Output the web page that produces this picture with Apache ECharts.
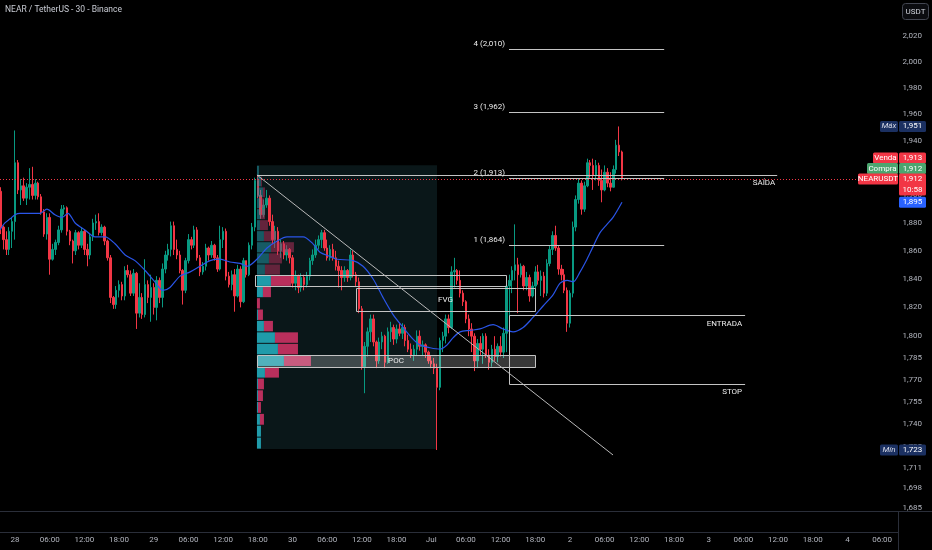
<!DOCTYPE html>
<html>
<head>
<meta charset="utf-8">
<script src="https://cdn.jsdelivr.net/npm/echarts@6/dist/echarts.min.js"></script>
<style>html,body{margin:0;padding:0;background:#000;}#c{width:932px;height:550px;}</style>
</head>
<body>
<div id="c"></div>
<script>
// ---------------- DATA ----------------
// 30-minute bars; bar index 0 = 28 Jun 00:00
const firstBar = -5;
const opens = [
1.903,1.877,1.868,1.861,1.874,1.881,1.924,1.904,1.907,1.898,1.906,1.908,
1.900,1.909,1.899,1.888,1.872,1.884,1.854,1.861,1.866,1.875,1.890,1.891,
1.874,1.867,1.860,1.873,1.864,1.874,1.861,1.857,1.870,1.880,1.881,1.873,
1.877,1.867,1.855,1.827,1.822,1.832,1.836,1.828,1.846,1.843,1.830,1.844,
1.816,1.827,1.815,1.836,1.827,1.834,1.820,1.839,1.827,1.847,1.857,1.861,
1.878,1.861,1.857,1.846,1.832,1.853,1.868,1.864,1.875,1.855,1.845,1.849,
1.862,1.857,1.864,1.855,1.847,1.868,1.874,1.842,1.836,1.843,1.828,1.847,
1.824,1.853,1.843,1.864,1.877,1.911,1.900,1.886,1.893,1.898,1.881,1.868,
1.874,1.860,1.865,1.857,1.861,1.855,1.837,1.842,1.834,1.841,1.836,1.842,
1.853,1.857,1.864,1.868,1.873,1.862,1.855,1.861,1.855,1.849,1.846,1.841,
1.846,1.841,1.857,1.843,1.838,1.819,1.779,1.793,1.803,1.812,1.796,1.783,
1.796,1.800,1.782,1.803,1.806,1.798,1.805,1.802,1.806,1.797,1.791,1.787,
1.791,1.800,1.793,1.794,1.789,1.783,1.781,1.778,1.765,1.797,1.800,1.812,
1.806,1.845,1.846,1.839,1.830,1.824,1.812,1.805,1.800,1.783,1.795,1.791,
1.800,1.787,1.782,1.791,1.786,1.793,1.789,1.802,1.835,1.839,1.846,1.850,
1.843,1.849,1.835,1.841,1.828,1.835,1.845,1.839,1.842,1.830,1.851,1.861,
1.871,1.862,1.847,1.843,1.832,1.809,1.830,1.877,1.897,1.909,1.890,1.907,
1.924,1.922,1.915,1.922,1.911,1.904,1.917,1.909,1.906,1.919,1.937,1.932
];
const highs = [
1.906,1.878,1.874,1.877,1.884,1.948,1.926,1.912,1.913,1.909,1.920,1.921,
1.912,1.910,1.901,1.890,1.887,1.887,1.865,1.868,1.878,1.893,1.893,1.892,
1.875,1.868,1.875,1.874,1.877,1.875,1.865,1.872,1.883,1.886,1.887,1.879,
1.878,1.868,1.857,1.828,1.835,1.839,1.838,1.849,1.850,1.846,1.847,1.845,
1.837,1.830,1.854,1.839,1.843,1.837,1.842,1.841,1.851,1.860,1.865,1.881,
1.881,1.868,1.860,1.847,1.855,1.872,1.870,1.878,1.877,1.857,1.852,1.865,
1.863,1.867,1.865,1.857,1.878,1.877,1.876,1.845,1.846,1.847,1.850,1.849,
1.855,1.853,1.866,1.880,1.913,1.915,1.904,1.897,1.904,1.900,1.886,1.878,
1.877,1.868,1.867,1.864,1.862,1.857,1.846,1.843,1.844,1.843,1.845,1.855,
1.861,1.868,1.871,1.875,1.875,1.868,1.864,1.865,1.860,1.853,1.849,1.849,
1.847,1.861,1.860,1.845,1.841,1.821,1.796,1.806,1.815,1.815,1.797,1.799,
1.803,1.801,1.806,1.810,1.808,1.808,1.809,1.809,1.808,1.801,1.795,1.794,
1.804,1.804,1.797,1.795,1.790,1.787,1.785,1.781,1.799,1.803,1.815,1.815,
1.849,1.855,1.847,1.846,1.832,1.825,1.815,1.809,1.802,1.798,1.800,1.802,
1.802,1.791,1.794,1.800,1.795,1.800,1.806,1.838,1.843,1.849,1.879,1.855,
1.851,1.850,1.845,1.843,1.838,1.849,1.850,1.846,1.845,1.854,1.864,1.874,
1.878,1.864,1.850,1.847,1.834,1.832,1.881,1.900,1.912,1.911,1.910,1.927,
1.926,1.927,1.926,1.924,1.919,1.922,1.920,1.917,1.922,1.941,1.951,1.933
];
const lows = [
1.872,1.861,1.857,1.857,1.862,1.868,1.901,1.893,1.896,1.893,1.897,1.897,
1.897,1.897,1.886,1.870,1.868,1.843,1.853,1.857,1.864,1.873,1.886,1.871,
1.864,1.851,1.857,1.861,1.862,1.857,1.849,1.854,1.867,1.875,1.871,1.871,
1.864,1.853,1.823,1.819,1.819,1.827,1.825,1.825,1.841,1.828,1.828,1.805,
1.813,1.812,1.813,1.823,1.810,1.815,1.811,1.823,1.820,1.844,1.853,1.856,
1.857,1.854,1.844,1.822,1.830,1.851,1.861,1.862,1.853,1.842,1.843,1.846,
1.853,1.855,1.853,1.845,1.846,1.862,1.839,1.834,1.832,1.817,1.827,1.820,
1.823,1.841,1.842,1.861,1.874,1.898,1.883,1.884,1.891,1.878,1.865,1.862,
1.857,1.855,1.854,1.853,1.851,1.834,1.832,1.830,1.831,1.832,1.834,1.839,
1.850,1.855,1.861,1.862,1.860,1.853,1.853,1.853,1.846,1.834,1.832,1.838,
1.838,1.839,1.841,1.835,1.816,1.777,1.761,1.786,1.796,1.793,1.778,1.781,
1.791,1.778,1.781,1.796,1.794,1.795,1.800,1.798,1.793,1.789,1.785,1.783,
1.787,1.790,1.787,1.785,1.781,1.778,1.774,1.723,1.763,1.789,1.795,1.802,
1.805,1.834,1.836,1.827,1.821,1.809,1.800,1.789,1.776,1.778,1.787,1.781,
1.785,1.777,1.779,1.783,1.782,1.786,1.785,1.789,1.812,1.830,1.839,1.816,
1.841,1.832,1.832,1.824,1.827,1.830,1.836,1.828,1.827,1.828,1.849,1.857,
1.860,1.843,1.839,1.830,1.803,1.806,1.827,1.874,1.894,1.886,1.888,1.906,
1.913,1.904,1.911,1.907,1.895,1.903,1.906,1.903,1.910,1.916,1.929,1.911
];
const closes = [
1.877,1.868,1.861,1.874,1.881,1.924,1.904,1.907,1.898,1.906,1.908,1.900,
1.909,1.899,1.888,1.872,1.884,1.854,1.861,1.866,1.875,1.890,1.891,1.874,
1.867,1.860,1.873,1.864,1.874,1.861,1.857,1.870,1.880,1.881,1.873,1.877,
1.867,1.855,1.827,1.822,1.832,1.836,1.828,1.846,1.843,1.830,1.844,1.816,
1.827,1.815,1.836,1.827,1.834,1.820,1.839,1.827,1.847,1.857,1.861,1.878,
1.861,1.857,1.846,1.832,1.853,1.868,1.864,1.875,1.855,1.845,1.849,1.862,
1.857,1.864,1.855,1.847,1.868,1.874,1.842,1.836,1.843,1.828,1.847,1.824,
1.853,1.843,1.864,1.877,1.911,1.900,1.886,1.893,1.898,1.881,1.868,1.874,
1.860,1.865,1.857,1.861,1.855,1.837,1.842,1.834,1.841,1.836,1.842,1.853,
1.857,1.864,1.868,1.873,1.862,1.855,1.861,1.855,1.849,1.846,1.841,1.846,
1.841,1.857,1.843,1.838,1.819,1.779,1.793,1.803,1.812,1.796,1.783,1.796,
1.800,1.782,1.803,1.806,1.798,1.805,1.802,1.806,1.797,1.791,1.787,1.791,
1.800,1.793,1.794,1.789,1.783,1.781,1.778,1.765,1.797,1.800,1.812,1.806,
1.845,1.846,1.839,1.830,1.824,1.812,1.805,1.800,1.783,1.795,1.791,1.800,
1.787,1.782,1.791,1.786,1.793,1.789,1.802,1.835,1.839,1.846,1.850,1.843,
1.849,1.835,1.841,1.828,1.835,1.845,1.839,1.842,1.830,1.851,1.861,1.871,
1.862,1.847,1.843,1.832,1.809,1.830,1.877,1.897,1.909,1.890,1.907,1.924,
1.922,1.915,1.922,1.911,1.904,1.917,1.909,1.906,1.919,1.937,1.932,1.912
];

// moving average: bar index / value
const maIdx = [-5.2,-3.5,-1.7,0,1.7,5.2,8.7,11,13.8,16.3,18.3,20.8,24.2,27.7,31.1,34.6,38.1,41.5,45,48.4,51.2,53.6,57.1,60.6,64,67.5,70.9,74.4,77.9,80.3,83.7,87.2,90.7,94.1,97.6,99.7,103.1,105.5,109,111.4,117,120.4,123.9,127.3,130.8,134.3,137.7,140.1,143.6,147.1,149.5,151.6,154,157.4,160.9,165.4,168.9,172.3,175.8,179.2,182.7,186.2,188.6,191,193.1,195.5,197.9,200,202.4,204.8,206.9,210];
const maVal = [1.875,1.880,1.883,1.886,1.887,1.887,1.887,1.890,1.886,1.884,1.887,1.880,1.875,1.870,1.870,1.865,1.857,1.853,1.846,1.838,1.832,1.834,1.842,1.845,1.849,1.853,1.854,1.852,1.851,1.849,1.854,1.862,1.867,1.870,1.870,1.870,1.865,1.859,1.856,1.854,1.853,1.849,1.840,1.827,1.815,1.806,1.798,1.794,1.792,1.791,1.794,1.799,1.803,1.804,1.805,1.808,1.805,1.803,1.806,1.813,1.821,1.829,1.837,1.839,1.838,1.845,1.854,1.863,1.873,1.879,1.884,1.895];

// fixed-range volume profile (rows from top to bottom)
const vpStart = 83.7, vpEnd = 146.0, vpTop = 1.9221, vpBottom = 1.7236;
const vpBuy  = [2,4,6,4,4,3,7,14,12,8,14,6,0,1,7,18,21,27,8,1,1,1,3,4,4];
const vpSell = [0,1,2,3,4,8,12,23,13,15,20,8,3,5,9,23,20,27,14,6,5,3,4,0,0];
const vaRows = [10, 24];
const pocRow = 17, pocEnd = 179.9;

// drawings
const fvgA = {start: 83.0, end: 169.9, top: 1.8428, bottom: 1.8350};
const fvgB = {start: 118.0, end: 179.9, top: 1.8336, bottom: 1.8175};
const trendFrom = [83.7, 1.915], trendTo = [206.9, 1.7197];
const exitLine = {start: 83.7, end: 263.7, price: 1.915};
const fibStart = 170.9, fibEnd = 224.6;
const fibLevels = [1, 2, 3, 4];
const fibPrices = [1.864, 1.913, 1.962, 2.010];
const trade = {start: 170.9, end: 252.6, entry: 1.815, stop: 1.767};

// price-scale tags
const lastPrice = 1.912, bidPrice = 1.913, askPrice = 1.912, countdown = '10:58';
const maLast = 1.895, maxPrice = 1.951, minPrice = 1.723;

// axes
const timeTicks = [0,12,24,36,48,60,72,84,96,108,120,132,144,156,168,180,192,204,216,228,240,252,264,276,288,300];
const timeLabels = ['28','06:00','12:00','18:00','29','06:00','12:00','18:00','30','06:00','12:00','18:00','Jul','06:00','12:00','18:00','2','06:00','12:00','18:00','3','06:00','12:00','18:00','4','06:00'];
const priceTicks = [2.020,2.000,1.980,1.960,1.940,1.920,1.900,1.880,1.860,1.840,1.820,1.800,1.785,1.770,1.755,1.740,1.725,1.711,1.698,1.685];
const xMin = -5.2, xMax = 305.5, yMaxPrice = 2.0481, yMinPrice = 1.6831;

// ---------------- CHART ----------------
const LN = Math.log;
const fmt = p => p.toFixed(3).replace('.', ',');
const FONT = 'Roboto, "Liberation Sans", sans-serif';
const UP = '#089981', DOWN = '#f23645';

const candleData = closes.map((c, k) => [firstBar + k, LN(opens[k]), LN(c), LN(lows[k]), LN(highs[k])]);
const maData = maIdx.map((x, k) => [x, LN(maVal[k])]);

const chart = echarts.init(document.getElementById('c'), null, {renderer: 'canvas'});

function hy(y) { return Math.round(y) + 0.5; }

function bgRender(params, api) {
  const a = api.coord([vpStart, LN(vpTop)]), b = api.coord([vpEnd, LN(vpBottom)]);
  return {type: 'rect', shape: {x: a[0], y: a[1], width: b[0] - a[0], height: b[1] - a[1]}, style: {fill: '#0a1719'}};
}

function vpRender(params, api) {
  const ch = [];
  const x0 = api.coord([vpStart, LN(vpTop)])[0];
  const x1 = api.coord([vpEnd, LN(vpTop)])[0];
  const totals = vpBuy.map((b, k) => b + vpSell[k]);
  const maxT = Math.max.apply(null, totals);
  const full = (x1 - x0) * 0.3;
  const step = (vpTop - vpBottom) / vpBuy.length;
  for (let k = 0; k < vpBuy.length; k++) {
    const yT = api.coord([vpStart, LN(vpTop - k * step)])[1];
    const yB = api.coord([vpStart, LN(vpTop - (k + 1) * step)])[1];
    const inVA = k >= vaRows[0] && k <= vaRows[1];
    const wb = vpBuy[k] / maxT * full, ws = vpSell[k] / maxT * full;
    const h = Math.max(1, yB - yT - 1);
    if (wb > 0) ch.push({type: 'rect', shape: {x: x0, y: yT + 0.5, width: wb, height: h},
      style: {fill: inVA ? 'rgba(34,170,186,0.9)' : 'rgba(34,160,176,0.5)'}});
    if (ws > 0) ch.push({type: 'rect', shape: {x: x0 + wb, y: yT + 0.5, width: ws, height: h},
      style: {fill: inVA ? 'rgba(204,50,100,0.9)' : 'rgba(190,50,95,0.5)'}});
  }
  return {type: 'group', children: ch};
}

function drawRender(params, api) {
  const ch = [];
  const c = (i, p) => api.coord([i, LN(p)]);
  const LINE = '#c4c4c4', TXT = '#ececec';
  const hline = (i0, i1, p, color, dash) => {
    const y = hy(c(i0, p)[1]);
    ch.push({type: 'line', shape: {x1: Math.round(c(i0, p)[0]), y1: y, x2: c(i1, p)[0], y2: y},
      style: {stroke: color, lineWidth: 1, lineDash: dash || null}});
    return y;
  };
  const text = (x, y, t, align) => ch.push({type: 'text', x: x, y: y,
    style: {text: t, fill: TXT, fontSize: 8, fontFamily: FONT, align: align || 'center', verticalAlign: 'middle'}});
  const box = (b, fill) => {
    const a = c(b.start, b.top), d = c(b.end, b.bottom);
    ch.push({type: 'rect', shape: {x: Math.round(a[0]) + 0.5, y: hy(a[1]), width: Math.round(d[0] - a[0]), height: Math.round(d[1] - a[1])},
      style: {fill: fill || 'rgba(0,0,0,0)', stroke: LINE, lineWidth: 1}});
    return [a, d];
  };

  // current price dotted line
  hline(xMin, xMax, lastPrice, '#f23645', [1, 2]);

  // FVG boxes
  box(fvgA);
  const bb = box(fvgB);
  text((bb[0][0] + bb[1][0]) / 2, (bb[0][1] + bb[1][1]) / 2, 'FVG');

  // POC box
  const step = (vpTop - vpBottom) / vpBuy.length;
  const pb = box({start: vpStart, end: pocEnd, top: vpTop - pocRow * step, bottom: vpTop - (pocRow + 1) * step}, 'rgba(255,255,255,0.22)');
  text(c(131.8, 1)[0], (pb[0][1] + pb[1][1]) / 2, 'POC');

  // trend line
  const t0 = c(trendFrom[0], trendFrom[1]), t1 = c(trendTo[0], trendTo[1]);
  ch.push({type: 'line', shape: {x1: t0[0], y1: t0[1], x2: t1[0], y2: t1[1]}, style: {stroke: '#b9b9b9', lineWidth: 1}});

  // exit line
  const ye = hline(exitLine.start, exitLine.end, exitLine.price, LINE);
  text(c(exitLine.end, 1)[0] - 2, ye + 7, 'SAÍDA', 'right');

  // fib extension levels
  fibLevels.forEach((lv, k) => {
    const y = hline(fibStart, fibEnd, fibPrices[k], LINE);
    text(c(fibStart, 1)[0] - 4, y - 6, lv + ' (' + fmt(fibPrices[k]) + ')', 'right');
  });

  // entry / stop
  const xa = Math.round(c(trade.start, 1)[0]) + 0.5, xb = c(trade.end, 1)[0];
  const yEn = hy(c(trade.start, trade.entry)[1]), ySt = hy(c(trade.start, trade.stop)[1]);
  ch.push({type: 'polyline', shape: {points: [[xb, yEn], [xa, yEn], [xa, ySt], [xb, ySt]]},
    style: {stroke: LINE, lineWidth: 1, fill: null}});
  text(xb - 3, yEn + 8, 'ENTRADA', 'right');
  text(xb - 3, ySt + 7, 'STOP', 'right');

  return {type: 'group', children: ch};
}

function tagsRender(params, api) {
  const ch = [];
  const yOf = p => api.coord([0, LN(p)])[1];
  const VX = 899, VW = 27, H = 11;
  const rect = (x, y, w, h, fill) => ch.push({type: 'rect', shape: {x: x, y: y, width: w, height: h, r: 1.5}, style: {fill: fill}});
  const txt = (x, y, t, color, italic, align) => ch.push({type: 'text', x: x, y: y,
    style: {text: t, fill: color, fontSize: 8, fontFamily: FONT, fontStyle: italic ? 'italic' : 'normal',
      align: align || 'center', verticalAlign: 'middle'}});
  const tag = (yc, name, nameW, value, color, italic, textColor) => {
    rect(898 - nameW, yc - H / 2, nameW, H, color);
    txt(898 - nameW / 2, yc, name, textColor || '#ffffff', italic);
    rect(VX, yc - H / 2, VW, H, color);
    txt(VX + VW / 2, yc, value, '#ffffff');
  };
  const NAVY = '#1b3061';
  tag(yOf(maxPrice), 'Máx', 18, fmt(maxPrice), NAVY, true, '#d6d9e6');
  tag(yOf(minPrice), 'Mín', 18, fmt(minPrice), NAVY, true, '#d6d9e6');
  const yl = yOf(lastPrice);
  tag(yl - 21, 'Venda', 25, fmt(bidPrice), DOWN);
  tag(yl - 10.5, 'Compra', 31, fmt(askPrice), '#4ba56f');
  // last price (two-line value)
  rect(858, yl - H / 2, 40, H, DOWN);
  txt(878, yl, 'NEARUSDT', '#ffffff');
  rect(VX, yl - H / 2, VW, 22, DOWN);
  txt(VX + VW / 2, yl, fmt(lastPrice), '#ffffff');
  txt(VX + VW / 2, yl + 11, countdown, '#ffffff');
  // MA value
  const ym = yOf(maLast);
  rect(VX, ym - H / 2, VW, H, '#2962ff');
  txt(VX + VW / 2, ym, fmt(maLast), '#ffffff');
  return {type: 'group', children: ch};
}

const option = {
  backgroundColor: '#000000',
  animation: false,
  grid: {left: 0, right: 34, top: 0, height: 511, containLabel: false, outerBoundsMode: 'none'},
  xAxis: {
    type: 'value', min: xMin, max: xMax,
    axisLine: {show: false}, axisTick: {show: false}, splitLine: {show: false},
    axisLabel: {
      customValues: timeTicks, margin: 25, color: '#b2b5be', fontSize: 8, fontFamily: FONT,
      formatter: v => timeLabels[timeTicks.indexOf(Math.round(v))] || ''
    }
  },
  yAxis: {
    type: 'value', position: 'right', min: LN(yMinPrice), max: LN(yMaxPrice),
    axisLine: {show: false}, axisTick: {show: false}, splitLine: {show: false},
    axisLabel: {
      customValues: priceTicks.map(LN), align: 'right', margin: 24, color: '#b2b5be', fontSize: 8, fontFamily: FONT,
      formatter: v => fmt(Math.exp(v))
    }
  },
  graphic: [
    {type: 'text', left: 5, top: 5, style: {text: 'NEAR / TetherUS - 30 - Binance', fill: '#c9ccd4', fontSize: 8.5, fontFamily: FONT}},
    {type: 'rect', shape: {x: 902.5, y: 3.5, width: 26, height: 16, r: 3}, style: {fill: '#0b0c10', stroke: '#434651', lineWidth: 1}},
    {type: 'text', x: 915.5, y: 11.5, style: {text: 'USDT', fill: '#d1d4dc', fontSize: 8, fontFamily: FONT, align: 'center', verticalAlign: 'middle'}},
    {type: 'line', shape: {x1: 0, y1: 511.5, x2: 932, y2: 511.5}, style: {stroke: '#2a2e39', lineWidth: 1}},
    {type: 'line', shape: {x1: 0, y1: 532.5, x2: 898, y2: 532.5}, style: {stroke: '#2a2e39', lineWidth: 1}},
    {type: 'line', shape: {x1: 898.5, y1: 511, x2: 898.5, y2: 550}, style: {stroke: '#2a2e39', lineWidth: 1}}
  ],
  series: [
    {type: 'custom', z: 1, silent: true, clip: true, renderItem: bgRender, data: [[0, 0]]},
    {
      type: 'candlestick', z: 2, barWidth: 2, data: candleData,
      encode: {x: 0, y: [1, 2, 3, 4]},
      itemStyle: {color: UP, color0: DOWN, borderColor: UP, borderColor0: DOWN, borderWidth: 1}
    },
    {type: 'custom', z: 3, silent: true, clip: true, renderItem: vpRender, data: [[0, 0]]},
    {type: 'line', z: 4, data: maData, smooth: 0.3, showSymbol: false, symbol: 'none',
      lineStyle: {color: '#2a55e8', width: 1.2}, silent: true},
    {type: 'custom', z: 5, silent: true, clip: true, renderItem: drawRender, data: [[0, 0]]},
    {type: 'custom', z: 6, silent: true, clip: false, renderItem: tagsRender, data: [[0, 0]]}
  ]
};
chart.setOption(option);
</script>
</body>
</html>
